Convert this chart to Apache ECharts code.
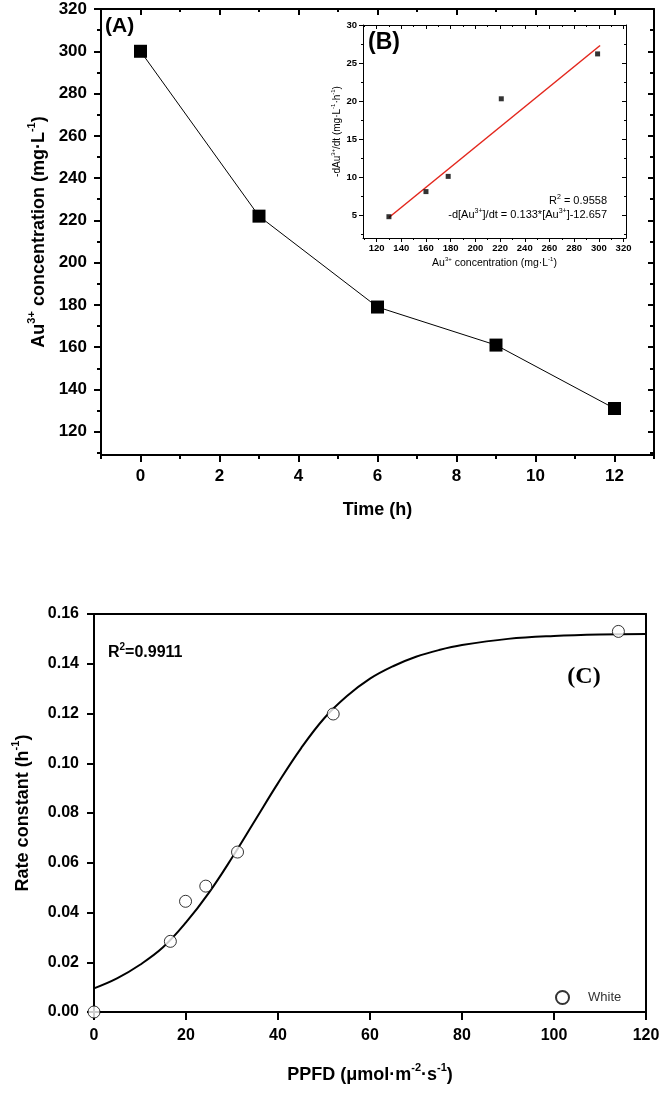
<!DOCTYPE html>
<html>
<head>
<meta charset="utf-8">
<script src="https://cdn.jsdelivr.net/npm/echarts@6/dist/echarts.min.js"></script>
<style>
html,body{margin:0;padding:0;background:#fff;}
#main{width:664px;height:1095px;}
</style>
</head>
<body>
<div id="main"></div>
<script>
// ---------- Data ----------
const timeH = [0, 3, 6, 9, 12];
const auConc = [300, 222, 179, 161, 131];

const insetConc = [130, 160, 178, 221, 299];
const insetRate = [4.8, 8.1, 10.1, 20.3, 26.2];
const fitConc = [130, 301];
const fitRate = [4.7, 27.3];

const ppfd = [0, 16.6, 19.9, 24.3, 31.2, 52.0, 114.0];
const rateK = [0.000, 0.0284, 0.0445, 0.0506, 0.0643, 0.1198, 0.1530];
const curveX = [0, 5, 10, 15, 20, 25, 30, 35, 40, 45, 50, 55, 60, 65, 70, 75, 80, 90, 100, 110, 120];
const curveY = [0.0095, 0.0135, 0.019, 0.026, 0.036, 0.048, 0.062, 0.077, 0.092, 0.106, 0.118, 0.127, 0.134, 0.139, 0.1428, 0.1455, 0.1475, 0.150, 0.1512, 0.1518, 0.152];

// tick labels
const aTimeTicks = [0, 2, 4, 6, 8, 10, 12];
const aTimeMinor = [-1, 1, 3, 5, 7, 9, 11, 13];
const aConcTicks = [120, 140, 160, 180, 200, 220, 240, 260, 280, 300, 320];
const aConcMinor = [110, 130, 150, 170, 190, 210, 230, 250, 270, 290, 310];
const bConcTicks = [120, 140, 160, 180, 200, 220, 240, 260, 280, 300, 320];
const bConcMinor = [110, 130, 150, 170, 190, 210, 230, 250, 270, 290, 310];
const bRateTicks = [5, 10, 15, 20, 25, 30];
const bRateMinor = [2.5, 7.5, 12.5, 17.5, 22.5, 27.5];
const cXTicks = [0, 20, 40, 60, 80, 100, 120];
const cYTicks = [0, 0.02, 0.04, 0.06, 0.08, 0.10, 0.12, 0.14, 0.16];

const FONT = '"Liberation Sans", Arial, sans-serif';
const SERIF = '"Liberation Serif", "Times New Roman", serif';

function zip(a, b) { return a.map((v, i) => [v, b[i]]); }

function rich(size, weight) {
  return {
    t: { fontSize: size, fontWeight: weight, fontFamily: FONT, color: '#000', lineHeight: size * 1.2, verticalAlign: 'bottom' },
    s: { fontSize: Math.round(size * 0.6), fontWeight: weight, fontFamily: FONT, color: '#000', verticalAlign: 'top', lineHeight: size * 1.2 }
  };
}

// axis factory
function ax(o) {
  const lw = o.lw || 2;
  const a = {
    type: 'value', gridIndex: o.grid, position: o.pos, min: o.min, max: o.max,
    splitLine: { show: false },
    axisLine: { show: !!o.line, onZero: false, lineStyle: { color: '#000', width: lw } },
    axisTick: o.ticks ? { show: true, customValues: o.ticks, inside: !!o.inside, length: o.tl, lineStyle: { color: '#000', width: lw } } : { show: false },
    axisLabel: o.labels ? Object.assign({ show: true, customValues: o.labels, color: '#000', fontFamily: FONT, fontWeight: 'bold', fontSize: o.fs, margin: o.margin }, o.fmt ? { formatter: o.fmt } : {}) : { show: false }
  };
  if (o.interval) a.interval = o.interval;
  if (o.name) {
    a.name = o.name; a.nameLocation = 'middle'; a.nameGap = o.nameGap;
    a.nameTextStyle = { rich: o.rich };
  }
  return a;
}

const xAxes = [
  // Panel A (grid 0)
  ax({ grid: 0, pos: 'bottom', min: -1, max: 13, line: true, ticks: aTimeTicks, tl: 7, labels: aTimeTicks, fs: 17, margin: 13,
       name: '{t|Time (h)}', nameGap: 42, rich: rich(18, 'bold') }),
  ax({ grid: 0, pos: 'bottom', min: -1, max: 13, ticks: aTimeMinor, tl: 4 }),
  ax({ grid: 0, pos: 'top', min: -1, max: 13, line: true, ticks: aTimeTicks, tl: 6, inside: true }),
  ax({ grid: 0, pos: 'top', min: -1, max: 13, ticks: aTimeMinor, tl: 3, inside: true }),
  // Inset B (grid 1)
  ax({ grid: 1, pos: 'bottom', min: 109, max: 322, lw: 1, line: true, ticks: bConcTicks, tl: 4, labels: bConcTicks, fs: 9.5, margin: 5,
       name: '{t|Au}{s|3+}{t| concentration (mg·L}{s|-1}{t|)}', nameGap: 18, rich: rich(10.5, 'normal') }),
  ax({ grid: 1, pos: 'bottom', min: 109, max: 322, lw: 1, ticks: bConcMinor, tl: 2 }),
  ax({ grid: 1, pos: 'top', min: 109, max: 322, lw: 1, line: true, ticks: bConcTicks, tl: 4, inside: true }),
  ax({ grid: 1, pos: 'top', min: 109, max: 322, lw: 1, ticks: bConcMinor, tl: 2, inside: true }),
  // Panel C (grid 2)
  ax({ grid: 2, pos: 'bottom', min: 0, max: 120, interval: 20, line: true, ticks: cXTicks, tl: 8,
       labels: cXTicks, fs: 16, margin: 16,
       name: '{t|PPFD (μmol·m}{s|-2}{t|·s}{s|-1}{t|)}', nameGap: 50, rich: rich(18, 'bold') }),
  ax({ grid: 2, pos: 'top', min: 0, max: 120, line: true })
];

const yAxes = [
  // Panel A
  ax({ grid: 0, pos: 'left', min: 109, max: 320, line: true, ticks: aConcTicks, tl: 7, labels: aConcTicks, fs: 17, margin: 14,
       name: '{t|Au}{s|3+}{t| concentration (mg·L}{s|-1}{t|)}', nameGap: 48, rich: rich(18, 'bold') }),
  ax({ grid: 0, pos: 'left', min: 109, max: 320, ticks: aConcMinor, tl: 4 }),
  ax({ grid: 0, pos: 'right', min: 109, max: 320, line: true, ticks: aConcTicks, tl: 6, inside: true }),
  ax({ grid: 0, pos: 'right', min: 109, max: 320, ticks: aConcMinor, tl: 4, inside: true }),
  // Inset B
  ax({ grid: 1, pos: 'left', min: 2, max: 30, lw: 1, line: true, ticks: bRateTicks, tl: 4, labels: bRateTicks, fs: 9.5, margin: 6,
       name: '{t|-dAu}{s|3+}{t|/dt (mg·L}{s|-1}{t|·h}{s|-1}{t|)}', nameGap: 21, rich: rich(10, 'normal') }),
  ax({ grid: 1, pos: 'left', min: 2, max: 30, lw: 1, ticks: bRateMinor, tl: 2 }),
  ax({ grid: 1, pos: 'right', min: 2, max: 30, lw: 1, line: true, ticks: bRateTicks, tl: 4, inside: true }),
  ax({ grid: 1, pos: 'right', min: 2, max: 30, lw: 1, ticks: bRateMinor, tl: 2, inside: true }),
  // Panel C
  ax({ grid: 2, pos: 'left', min: 0, max: 0.16, interval: 0.02, line: true,
       ticks: cYTicks, tl: 7, labels: cYTicks, fs: 16, margin: 15, fmt: v => v.toFixed(2),
       name: '{t|Rate constant (h}{s|-1}{t|)}', nameGap: 62, rich: rich(18, 'bold') }),
  ax({ grid: 2, pos: 'right', min: 0, max: 0.16, line: true })
];

const option = {
  animation: false,
  backgroundColor: '#fff',
  grid: [
    { left: 101, top: 9, width: 553, height: 446 },
    { left: 363, top: 25, width: 263, height: 213, show: true, backgroundColor: '#fff', borderWidth: 0 },
    { left: 94, top: 614, width: 552, height: 398 }
  ],
  xAxis: xAxes,
  yAxis: yAxes,
  legend: {
    data: [{ name: 'White', icon: 'circle' }],
    left: 550, top: 985, itemWidth: 13, itemHeight: 13,
    textStyle: { fontFamily: FONT, fontSize: 13, color: '#333', padding: [0, 0, 0, 14] }
  },
  series: [
    {
      type: 'line', xAxisIndex: 0, yAxisIndex: 0, data: zip(timeH, auConc),
      symbol: 'rect', symbolSize: 13, itemStyle: { color: '#000' },
      lineStyle: { color: '#000', width: 1 }, z: 3
    },
    {
      type: 'line', xAxisIndex: 4, yAxisIndex: 4, data: zip(fitConc, fitRate),
      symbol: 'none', lineStyle: { color: '#e3261c', width: 1.5 }, z: 3
    },
    {
      type: 'scatter', xAxisIndex: 4, yAxisIndex: 4, data: zip(insetConc, insetRate),
      symbol: 'rect', symbolSize: 5, itemStyle: { color: '#000' }, z: 4
    },
    {
      type: 'line', xAxisIndex: 8, yAxisIndex: 8, data: zip(curveX, curveY),
      smooth: 0.4, symbol: 'none', lineStyle: { color: '#000', width: 2 }, z: 3
    },
    {
      name: 'White', type: 'scatter', xAxisIndex: 8, yAxisIndex: 8, data: zip(ppfd, rateK),
      symbol: 'circle', symbolSize: 12, clip: false,
      itemStyle: { color: '#fff', borderColor: '#000', borderWidth: 1 }, z: 5
    }
  ],
  graphic: [
    { type: 'text', left: 105, top: 16, style: { text: '(A)', font: 'bold 21px ' + FONT, fill: '#000' }, z: 10 },
    { type: 'text', left: 368, top: 31, style: { text: '(B)', font: 'bold 23px ' + FONT, fill: '#000' }, z: 10 },
    { type: 'text', x: 607, y: 200, style: { text: '{n|R}{s|2}{n| = 0.9558}', align: 'right', verticalAlign: 'middle',
        rich: { n: { fontSize: 11, fontFamily: FONT, color: '#000', lineHeight: 13, verticalAlign: 'bottom' }, s: { fontSize: 7, fontFamily: FONT, color: '#000', verticalAlign: 'top', lineHeight: 13 } } }, z: 10 },
    { type: 'text', x: 607, y: 214, style: { text: '{n|-d[Au}{s|3+}{n|]/dt = 0.133*[Au}{s|3+}{n|]-12.657}', align: 'right', verticalAlign: 'middle',
        rich: { n: { fontSize: 11, fontFamily: FONT, color: '#000', lineHeight: 13, verticalAlign: 'bottom' }, s: { fontSize: 7, fontFamily: FONT, color: '#000', verticalAlign: 'top', lineHeight: 13 } } }, z: 10 },
    { type: 'text', left: 108, top: 642, style: { text: '{n|R}{s|2}{n|=0.9911}',
        rich: { n: { fontSize: 16, fontWeight: 'bold', fontFamily: FONT, color: '#000', lineHeight: 19, verticalAlign: 'bottom' }, s: { fontSize: 10, fontWeight: 'bold', fontFamily: FONT, color: '#000', verticalAlign: 'top', lineHeight: 19 } } }, z: 10 },
    { type: 'text', x: 584, y: 677, style: { text: '(C)', font: 'bold 24px ' + SERIF, fill: '#000', align: 'center', verticalAlign: 'middle' }, z: 10 }
  ]
};

const chart = echarts.init(document.getElementById('main'), null, { renderer: 'canvas' });
chart.setOption(option);
</script>
</body>
</html>
